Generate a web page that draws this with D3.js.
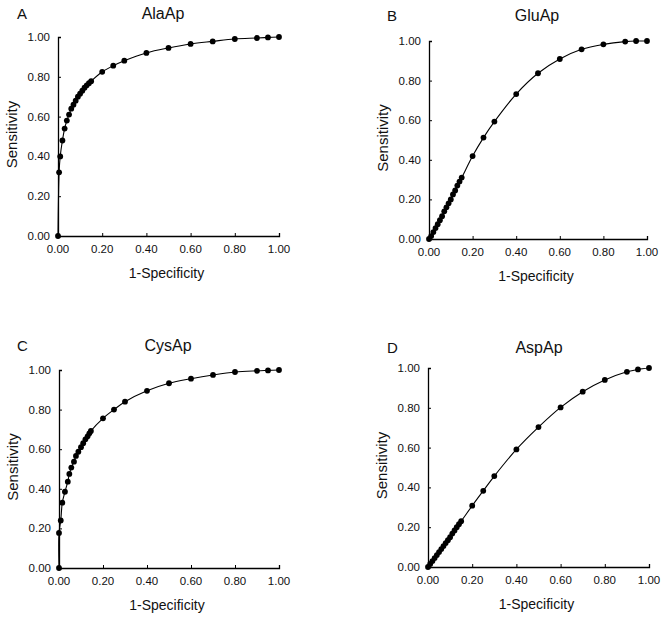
<!DOCTYPE html>
<html lang="en">
<head>
<meta charset="utf-8">
<title>ROC curves</title>
<script src="https://cdn.jsdelivr.net/npm/d3@7/dist/d3.min.js"></script>
<style>
  body { margin: 0; background: #fff; }
  text { font-family: Arial, "Liberation Sans", sans-serif; fill: #111; }
</style>
</head>
<body>
<script>
// ROC data (1-specificity vs sensitivity)
var fprA  = [0, 0.005, 0.01, 0.02, 0.03, 0.04, 0.05, 0.06, 0.07, 0.08, 0.09, 0.10, 0.11, 0.12, 0.13, 0.14, 0.15, 0.2, 0.25, 0.3, 0.4, 0.5, 0.6, 0.7, 0.8, 0.9, 0.95, 1];
var sensA = [0, 0.32, 0.40, 0.48, 0.54, 0.58, 0.61, 0.64, 0.66, 0.68, 0.70, 0.715, 0.73, 0.745, 0.757, 0.768, 0.778, 0.825, 0.856, 0.881, 0.92, 0.945, 0.965, 0.978, 0.99, 0.995, 0.998, 1];

var fprB  = [0, 0.01, 0.02, 0.03, 0.04, 0.05, 0.06, 0.07, 0.08, 0.09, 0.10, 0.11, 0.12, 0.13, 0.14, 0.15, 0.2, 0.25, 0.3, 0.4, 0.5, 0.6, 0.7, 0.8, 0.9, 0.95, 1];
var sensB = [0, 0.015, 0.035, 0.055, 0.075, 0.095, 0.115, 0.14, 0.16, 0.18, 0.20, 0.225, 0.245, 0.27, 0.29, 0.31, 0.419, 0.512, 0.593, 0.732, 0.837, 0.909, 0.958, 0.983, 0.997, 1, 1];

var fprC  = [0, 0, 0.008, 0.015, 0.027, 0.04, 0.047, 0.056, 0.068, 0.077, 0.088, 0.10, 0.11, 0.12, 0.13, 0.138, 0.145, 0.2, 0.25, 0.3, 0.4, 0.5, 0.6, 0.7, 0.8, 0.9, 0.95, 1];
var sensC = [0, 0.177, 0.24, 0.33, 0.385, 0.436, 0.475, 0.507, 0.537, 0.566, 0.587, 0.61, 0.63, 0.65, 0.665, 0.68, 0.692, 0.756, 0.80, 0.84, 0.895, 0.933, 0.956, 0.975, 0.99, 0.996, 0.998, 1];

var fprD  = [0, 0.01, 0.02, 0.03, 0.04, 0.05, 0.06, 0.07, 0.08, 0.09, 0.10, 0.11, 0.12, 0.13, 0.14, 0.15, 0.2, 0.25, 0.3, 0.4, 0.5, 0.6, 0.7, 0.8, 0.9, 0.95, 1];
var sensD = [0, 0.015, 0.03, 0.045, 0.06, 0.075, 0.09, 0.105, 0.12, 0.135, 0.15, 0.168, 0.184, 0.2, 0.215, 0.23, 0.308, 0.383, 0.457, 0.591, 0.703, 0.802, 0.881, 0.94, 0.981, 0.993, 1];

var panelLetters = ["A", "B", "C", "D"];
var panelTitles = ["AlaAp", "GluAp", "CysAp", "AspAp"];
var tickValues = [0, 0.2, 0.4, 0.6, 0.8, 1.0];
var xLabel = "1-Specificity", yLabel = "Sensitivity";

var width = 664, height = 618;

var svg = d3.select("body").append("svg")
    .attr("width", width)
    .attr("height", height);

// plot boxes: left, right, top, bottom (pixel layout)
var boxes = [
  { l: 58,  r: 279, t: 37,  b: 236, letterX: 17,  titleX: 163, titleY: 19 },
  { l: 429, r: 647, t: 41,  b: 239, letterX: 387, titleX: 537, titleY: 21 },
  { l: 59,  r: 279, t: 370, b: 568, letterX: 17,  titleX: 168, titleY: 351 },
  { l: 428, r: 649, t: 368, b: 567, letterX: 387, titleX: 539, titleY: 353 }
];
var series = [[fprA, sensA], [fprB, sensB], [fprC, sensC], [fprD, sensD]];

boxes.forEach(function(bx, i) {
  var x = d3.scaleLinear().domain([0, 1]).range([bx.l, bx.r]);
  var y = d3.scaleLinear().domain([0, 1]).range([bx.b, bx.t]);
  var pts = series[i][0].map(function(v, k) { return [v, series[i][1][k]]; });
  var g = svg.append("g");

  // axes, ticks pointing inward
  var xAxis = g.append("g")
    .attr("transform", "translate(0," + bx.b + ")")
    .call(d3.axisTop(x).tickValues(tickValues).tickSize(3).tickFormat(""));
  var yAxis = g.append("g")
    .attr("transform", "translate(" + bx.l + ",0)")
    .call(d3.axisRight(y).tickValues(tickValues).tickSize(3).tickFormat(""));
  [xAxis, yAxis].forEach(function(a) {
    a.select(".domain").attr("stroke", "#000").attr("stroke-width", 1.3);
    a.selectAll(".tick line").attr("stroke", "#000");
  });

  // tick labels
  g.selectAll(".xt").data(tickValues).enter().append("text")
    .attr("x", function(d) { return x(d); })
    .attr("y", bx.b + 17)
    .attr("text-anchor", "middle")
    .attr("font-size", "11.5px")
    .text(function(d) { return d.toFixed(2); });
  g.selectAll(".yt").data(tickValues).enter().append("text")
    .attr("x", bx.l - 8)
    .attr("y", function(d) { return y(d) + 4; })
    .attr("text-anchor", "end")
    .attr("font-size", "11.5px")
    .text(function(d) { return d.toFixed(2); });

  // labels
  g.append("text")
    .attr("x", (bx.l + bx.r) / 2 - 2)
    .attr("y", bx.b + 42)
    .attr("text-anchor", "middle")
    .attr("font-size", "14px")
    .text(xLabel);
  g.append("text")
    .attr("transform", "translate(" + (bx.l - 41) + "," + ((bx.t + bx.b) / 2 - 2) + ") rotate(-90)")
    .attr("text-anchor", "middle")
    .attr("font-size", "15px")
    .text(yLabel);
  g.append("text")
    .attr("x", bx.titleX)
    .attr("y", bx.titleY)
    .attr("text-anchor", "middle")
    .attr("font-size", "16px")
    .text(panelTitles[i]);
  g.append("text")
    .attr("x", bx.letterX)
    .attr("y", bx.titleY)
    .attr("font-size", "15px")
    .text(panelLetters[i]);

  // curve + markers
  var line = d3.line()
    .x(function(d) { return x(d[0]); })
    .y(function(d) { return y(d[1]); })
    .curve(d3.curveCatmullRom.alpha(0.5));
  g.append("path")
    .datum(pts)
    .attr("d", line)
    .attr("fill", "none")
    .attr("stroke", "#000")
    .attr("stroke-width", 1.1);
  g.selectAll(".pt").data(pts).enter().append("circle")
    .attr("cx", function(d) { return x(d[0]); })
    .attr("cy", function(d) { return y(d[1]); })
    .attr("r", 2.9)
    .attr("fill", "#000");
});
</script>
</body>
</html>
